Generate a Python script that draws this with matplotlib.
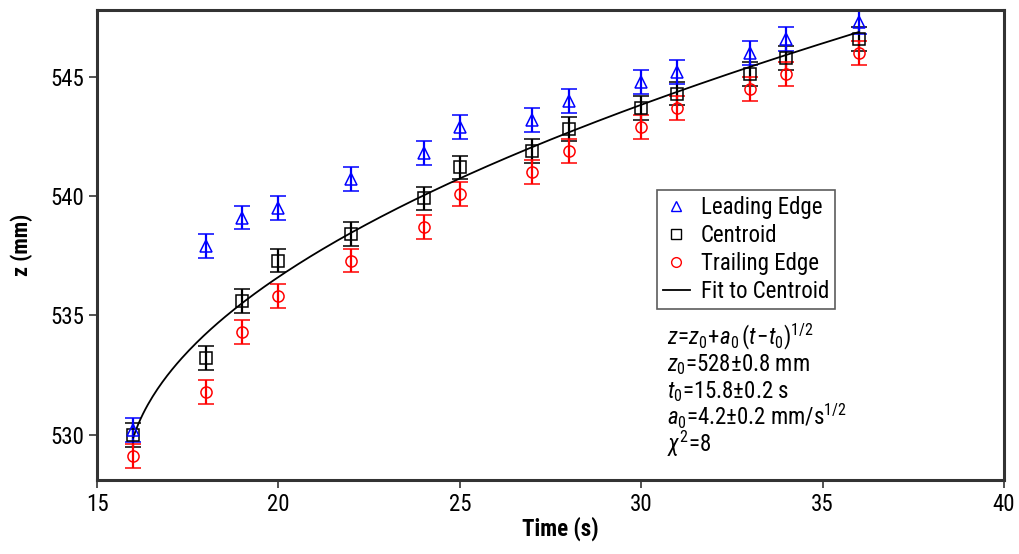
"""Front position z vs time with sqrt fit to centroid."""

from matplotlib import pyplot as plt
from matplotlib import font_manager
from matplotlib.lines import Line2D
import numpy as np

# Data.
time = [16, 18, 19, 20, 22, 24, 25, 27, 28, 30, 31, 33, 34, 36]
leadingEdge = [530.2, 537.9, 539.1, 539.5, 540.7, 541.8, 542.9, 543.2, 544.0, 544.8, 545.2, 546.0, 546.6, 547.3]
centroid = [530.0, 533.2, 535.6, 537.3, 538.4, 539.9, 541.2, 541.9, 542.8, 543.7, 544.3, 545.1, 545.8, 546.6]
trailingEdge = [529.1, 531.8, 534.3, 535.8, 537.3, 538.7, 540.1, 541.0, 541.9, 542.9, 543.7, 544.5, 545.1, 546.0]
zError = 0.5

# Fit parameters as quoted on the chart.
z0 = 528.0
t0 = 15.8
a0 = 4.2

# The reference uses a condensed Arial-like face; take a narrow one if it is installed.
installed = {f.name for f in font_manager.fontManager.ttflist}
condensed = {f.name for f in font_manager.fontManager.ttflist if 'ondensed' in f.fname or 'arrow' in f.fname}
fontName = 'Liberation Sans'
fontStretch = 'normal'
for candidate in ['Liberation Sans Narrow', 'Roboto Condensed', 'Open Sans Condensed', 'Noto Sans Condensed']:
    if candidate in installed:
        fontName = candidate
        break
else:
    if 'DejaVu Sans' in condensed:
        fontName = 'DejaVu Sans'
        fontStretch = 'condensed'

plt.rcParams['font.family'] = [fontName, 'Liberation Sans', 'DejaVu Sans']
plt.rcParams['font.stretch'] = fontStretch
plt.rcParams['mathtext.fontset'] = 'custom'
plt.rcParams['mathtext.rm'] = fontName
plt.rcParams['mathtext.it'] = fontName + ':italic'

fig = plt.figure(figsize=(10.19, 5.54), dpi=100)
axes = fig.add_axes([97 / 1019, 1 - 480 / 554, (1004 - 97) / 1019, (480 - 10) / 554])

errStyle = dict(linestyle='none', markersize=8, markerfacecolor='none', capsize=6,
                elinewidth=1.6, capthick=1.6, markeredgewidth=1.1)
axes.errorbar(time, centroid, yerr=zError, marker='s', color='black', **errStyle)
axes.errorbar(time, trailingEdge, yerr=zError, marker='o', color='red', **errStyle)
axes.errorbar(time, leadingEdge, yerr=zError, marker='^', color='blue', **errStyle)

# Fit curve through centroid.
tFit = np.linspace(time[0], time[-1], 300)
axes.plot(tFit, z0 + a0 * np.sqrt(tFit - t0), color='black', linewidth=1.3)

axes.set_xlim(15, 40)
axes.set_ylim(528.1, 547.8)
axes.set_xticks([15, 20, 25, 30, 35, 40])
axes.set_yticks([530, 535, 540, 545])
axes.tick_params(direction='out', length=6, width=1.2, color='#333333', labelsize=16.5)
for spine in axes.spines.values():
    spine.set_linewidth(2.2)
    spine.set_color('#333333')

axes.set_xlabel('Time (s)', fontsize=16.5, fontweight='bold')
axes.xaxis.set_label_coords((560 - 97) / 907, -0.078)
axes.set_ylabel('z (mm)', fontsize=16, fontweight='bold', labelpad=12)

handles = [
    Line2D([], [], linestyle='none', marker='^', color='blue', markerfacecolor='none', markersize=7),
    Line2D([], [], linestyle='none', marker='s', color='black', markerfacecolor='none', markersize=7),
    Line2D([], [], linestyle='none', marker='o', color='red', markerfacecolor='none', markersize=7),
    Line2D([], [], color='black', linewidth=1.3),
]
labels = ['Leading Edge', 'Centroid', 'Trailing Edge', 'Fit to Centroid']
legend = axes.legend(handles, labels, loc='upper left', bbox_to_anchor=((657 - 97) / 907, (480 - 190) / 470),
                     fontsize=16.5, frameon=True, fancybox=False, edgecolor='#333333', handlelength=1.2,
                     handletextpad=0.45, labelspacing=0.22, borderpad=0.25, borderaxespad=0)
legend.get_frame().set_linewidth(1.2)

fitLines = [
    r'$z\!=\!z_0\!+\!a_0\,(t\!-\!t_0)^{1/2}$',
    r'$z_0$=528$\pm$0.8 mm',
    r'$t_0$=15.8$\pm$0.2 s',
    r'$a_0$=4.2$\pm$0.2 mm/s$^{1/2}$',
    r'$\chi^2$=8',
]
for i, line in enumerate(fitLines):
    fig.text(667 / 1019, 1 - (344 + 27 * i) / 554, line, fontsize=16.5, ha='left', va='baseline')

fig.savefig('out.png', dpi=100)
